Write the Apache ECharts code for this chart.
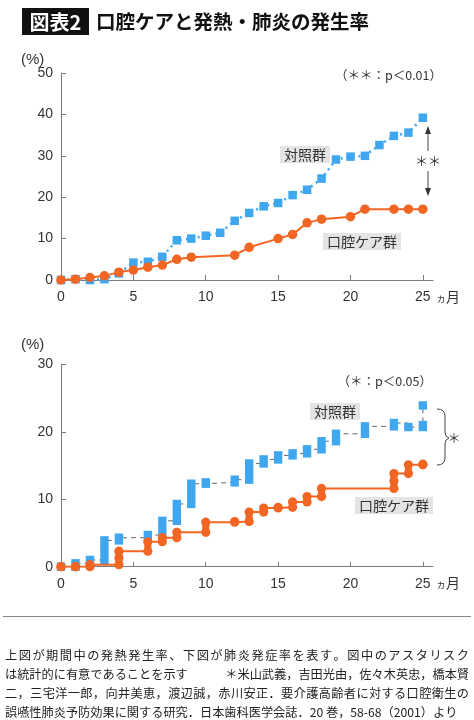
<!DOCTYPE html>
<html>
<head>
<meta charset="utf-8">
<script src="https://cdn.jsdelivr.net/npm/echarts@6.0.0/dist/echarts.min.js"></script>
<style>
  html, body { margin: 0; padding: 0; background: #fff; }
  #chart { width: 474px; height: 720px; }
</style>
</head>
<body>
<div id="chart"></div>
<script>
// 上図: 発熱発生率 (%)
const ctrlFeverMonths = [0, 1, 2, 3, 4, 5, 6, 7, 8, 9, 10, 11, 12, 13, 14, 15, 16, 17, 18, 19, 20, 21, 22, 23, 24, 25]
const ctrlFever = [0, 0.2, 0, 0.2, 1.6, 4.2, 4.4, 5.6, 9.6, 10.0, 10.7, 11.4, 14.3, 16.2, 17.8, 18.6, 20.5, 21.8, 24.5, 29.1, 29.8, 30.0, 32.6, 34.8, 35.6, 39.2]
const careFeverMonths = [0, 1, 2, 3, 4, 5, 6, 7, 8, 9, 12, 13, 15, 16, 17, 18, 20, 21, 23, 24, 25]
const careFever = [0, 0.2, 0.6, 1.0, 1.9, 2.4, 3.1, 3.6, 5.0, 5.5, 6.0, 7.9, 10.0, 11.0, 13.8, 14.7, 15.3, 17.1, 17.1, 17.1, 17.1]

// 下図: 肺炎発症率 (%)  from = 段差の下端, to = 段差の上端
const ctrlPnMonths = [0, 1, 2, 3, 4, 6, 7, 8, 9, 10, 12, 13, 14, 15, 16, 17, 18, 19, 21, 23, 24, 25, 25]
const ctrlPnFrom = [0, 0, 0.5, 1.0, 3.9, 4.3, 4.7, 6.8, 9.3, 12.3, 12.5, 12.9, 15.3, 15.9, 16.5, 16.8, 17.4, 18.6, 19.7, 20.8, 20.7, 20.7, 23.9]
const ctrlPnTo = [0, 0.5, 1.0, 3.9, 4.3, 4.7, 6.8, 9.3, 12.3, 12.5, 12.9, 15.3, 15.9, 16.5, 16.8, 17.4, 18.6, 19.7, 20.8, 21.3, 20.7, 21.0, 23.9]
const carePnMonths = [0, 1, 2, 4, 6, 7, 8, 10, 12, 13, 14, 15, 16, 17, 18, 23, 24, 25]
const carePnFrom = [0, 0, 0, 0.3, 2.3, 3.7, 4.3, 5.1, 6.6, 6.7, 8.1, 8.7, 8.8, 9.6, 10.4, 11.6, 13.8, 15.1]
const carePnTo = [0, 0, 0.3, 2.3, 3.7, 4.3, 5.1, 6.6, 6.7, 8.1, 8.7, 8.8, 9.6, 10.4, 11.6, 13.8, 15.1, 15.2]

const xTickValues = [5, 10, 15, 20, 25]
const xLabelValues = [0, 5, 10, 15, 20, 25]

const BLUE = '#3fa6f0'
const ORANGE = '#f26522'
const AXIS = '#7a7a7a'
const TEXT = '#333'
const JP = '"Noto Sans CJK JP", sans-serif'
const NUM = '"Liberation Sans", "Noto Sans", sans-serif'

const zip = (xs, ys) => xs.map((x, i) => [x, ys[i]])
const zip3 = (xs, a, b) => xs.map((x, i) => [x, a[i], b[i]])

function xAxisOf(gridIndex) {
  return {
    type: 'value', gridIndex, min: 0, max: 25.7,
    axisLine: { show: true, lineStyle: { color: AXIS, width: 1 } },
    axisTick: { show: true, inside: true, length: 5, customValues: xTickValues, lineStyle: { color: AXIS } },
    axisLabel: { customValues: xLabelValues, color: TEXT, fontSize: 14, fontFamily: NUM, margin: 10 },
    splitLine: { show: false }
  }
}
function yAxisOf(gridIndex, max) {
  return {
    type: 'value', gridIndex, min: 0, max, interval: 10,
    axisLine: { show: true, lineStyle: { color: AXIS, width: 1 } },
    axisTick: { show: true, inside: true, length: 5, lineStyle: { color: AXIS } },
    axisLabel: { color: TEXT, fontSize: 14, fontFamily: NUM, margin: 8 },
    splitLine: { show: false }
  }
}

function ctrlBar(params, api) {
  var a = api.coord([api.value(0), api.value(1)])
  var b = api.coord([api.value(0), api.value(2)])
  var top = Math.min(a[1], b[1]) - 4.2
  return {
    type: 'rect',
    shape: { x: a[0] - 4.2, y: top, width: 8.4, height: Math.abs(a[1] - b[1]) + 8.4 },
    style: { fill: BLUE }
  }
}
function careStack(params, api) {
  var a = api.coord([api.value(0), api.value(1)])
  var b = api.coord([api.value(0), api.value(2)])
  var m = [(a[0] + b[0]) / 2, (a[1] + b[1]) / 2]
  var kids = [
    { type: 'rect', shape: { x: a[0] - 3.5, y: Math.min(a[1], b[1]), width: 7, height: Math.abs(a[1] - b[1]) }, style: { fill: ORANGE } },
    { type: 'circle', shape: { cx: a[0], cy: a[1], r: 4.6 }, style: { fill: ORANGE } },
    { type: 'circle', shape: { cx: b[0], cy: b[1], r: 4.6 }, style: { fill: ORANGE } }
  ]
  if (Math.abs(a[1] - b[1]) > 12) {
    kids.push({ type: 'circle', shape: { cx: m[0], cy: m[1], r: 4.6 }, style: { fill: ORANGE } })
  }
  return { type: 'group', children: kids }
}

function label(text, x, y, size) {
  return {
    type: 'text', x, y, z: 100,
    style: {
      text, fill: TEXT, font: (size || 14) + 'px ' + JP,
      backgroundColor: '#e4e4e4', padding: [2, 4, 1, 4], verticalAlign: 'top'
    }
  }
}
function plain(text, x, y, opts) {
  return {
    type: 'text', x, y, z: 100,
    style: Object.assign({ text, fill: TEXT, font: '13px ' + JP, verticalAlign: 'middle' }, opts || {})
  }
}
function seg(x1, y1, x2, y2) {
  return { type: 'line', z: 100, shape: { x1, y1, x2, y2 }, style: { stroke: '#444', lineWidth: 1 } }
}
function curve(x1, y1, cpx1, cpy1, x2, y2) {
  return { type: 'bezierCurve', z: 100, shape: { x1, y1, cpx1, cpy1, x2, y2 }, style: { stroke: '#444', lineWidth: 1, fill: null } }
}
// 両端揃えの行 (全角文字のみ)
function spread(text, x0, x1, y, size) {
  var chars = Array.from(text)
  var step = (x1 - x0 - size) / (chars.length - 1)
  return chars.map((c, i) => plain(c, x0 + i * step, y, { fill: '#222', font: size + 'px ' + JP }))
}

const CAP = 12.2
const caption = [
  '上図が期間中の発熱発生率、下図が肺炎発症率を表す。図中のアスタリスク',
  'は統計的に有意であることを示す',
  '＊米山武義，吉田光由，佐々木英忠，橋本賢',
  '二，三宅洋一郎，向井美恵，渡辺誠，赤川安正．要介護高齢者に対する口腔衛生の',
  '誤嚥性肺炎予防効果に関する研究．日本歯科医学会誌．20 巻，58-68（2001）より'
]

var chart = echarts.init(document.getElementById('chart'))
chart.setOption({
  animation: false,
  backgroundColor: '#fff',
  grid: [
    { left: 61, top: 73, width: 372, height: 207, outerBoundsMode: 'none' },
    { left: 61, top: 364.3, width: 372, height: 202.4, outerBoundsMode: 'none' }
  ],
  xAxis: [xAxisOf(0), xAxisOf(1)],
  yAxis: [yAxisOf(0, 50), yAxisOf(1, 30)],
  series: [
    {
      name: '対照群', type: 'line', xAxisIndex: 0, yAxisIndex: 0, z: 3,
      data: zip(ctrlFeverMonths, ctrlFever),
      symbol: 'rect', symbolSize: 8.5, showSymbol: true,
      itemStyle: { color: BLUE },
      lineStyle: { color: BLUE, width: 2.5, type: [2, 4] }
    },
    {
      name: '口腔ケア群', type: 'line', xAxisIndex: 0, yAxisIndex: 0, z: 4,
      data: zip(careFeverMonths, careFever),
      symbol: 'circle', symbolSize: 9.5, showSymbol: true,
      itemStyle: { color: ORANGE },
      lineStyle: { color: ORANGE, width: 2 }
    },
    {
      name: '対照群', type: 'line', xAxisIndex: 1, yAxisIndex: 1, z: 2, step: 'end',
      data: zip(ctrlPnMonths, ctrlPnTo), showSymbol: false,
      lineStyle: { color: '#666', width: 1, type: [5, 4] }
    },
    {
      name: '対照群', type: 'custom', xAxisIndex: 1, yAxisIndex: 1, z: 3,
      data: zip3(ctrlPnMonths, ctrlPnFrom, ctrlPnTo),
      encode: { x: 0, y: [1, 2] },
      renderItem: ctrlBar
    },
    {
      name: '口腔ケア群', type: 'line', xAxisIndex: 1, yAxisIndex: 1, z: 4, step: 'end',
      data: zip(carePnMonths, carePnTo), showSymbol: false,
      lineStyle: { color: ORANGE, width: 2 }
    },
    {
      name: '口腔ケア群', type: 'custom', xAxisIndex: 1, yAxisIndex: 1, z: 5,
      data: zip3(carePnMonths, carePnFrom, carePnTo),
      encode: { x: 0, y: [1, 2] },
      renderItem: careStack
    }
  ],
  graphic: [
    { type: 'rect', shape: { x: 22, y: 8, width: 67, height: 27 }, style: { fill: '#111' } },
    plain('図表2', 55.5, 22, { fill: '#fff', font: 'bold 20px ' + JP, align: 'center' }),
    plain('口腔ケアと発熱・肺炎の発生率', 96, 22, { fill: '#111', font: 'bold 19.5px ' + JP }),

    plain('(%)', 21, 60, { font: '15px ' + NUM }),
    plain('(%)', 21, 345, { font: '15px ' + NUM }),
    plain('ヵ', 436, 298, { font: '10px ' + JP }),
    plain('月', 446, 297, { font: '14px ' + JP }),
    plain('ヵ', 436, 584, { font: '10px ' + JP }),
    plain('月', 446, 583, { font: '14px ' + JP }),

    plain('（＊＊：p＜0.01）', 442, 75, { font: '12.5px ' + JP, align: 'right' }),
    plain('（＊：p＜0.05）', 432, 381, { font: '12.5px ' + JP, align: 'right' }),

    label('対照群', 280, 146),
    label('口腔ケア群', 323, 233),
    label('対照群', 310, 403),
    label('口腔ケア群', 355, 497),

    // 上図の矢印
    seg(428, 132, 428, 151),
    seg(428, 171, 428, 190),
    { type: 'polygon', z: 100, shape: { points: [[428, 126], [425, 134], [431, 134]] }, style: { fill: '#333' } },
    { type: 'polygon', z: 100, shape: { points: [[428, 196], [425, 188], [431, 188]] }, style: { fill: '#333' } },
    plain('＊＊', 428, 161, { font: '13px ' + JP, align: 'center' }),

    // 下図の括弧
    curve(437, 409, 445, 409, 445, 416),
    seg(445, 416, 445, 432),
    curve(445, 432, 445, 437, 449, 438),
    curve(449, 438, 445, 439, 445, 444),
    seg(445, 444, 445, 458),
    curve(445, 458, 445, 465, 437, 465),
    plain('＊', 454, 438, { font: '13px ' + JP, align: 'center' }),

    { type: 'line', shape: { x1: 3, y1: 616.5, x2: 471, y2: 616.5 }, style: { stroke: '#888', lineWidth: 1 } },
    ...spread(caption[0], 5, 469, 655, CAP),
    plain(caption[1], 5, 674, { fill: '#222', font: CAP + 'px ' + JP }),
    plain(caption[2], 469, 674, { fill: '#222', font: CAP + 'px ' + JP, align: 'right' }),
    ...spread(caption[3], 5, 469, 693, CAP),
    plain(caption[4], 5, 712, { fill: '#222', font: CAP + 'px ' + JP })
  ]
})
</script>
</body>
</html>
